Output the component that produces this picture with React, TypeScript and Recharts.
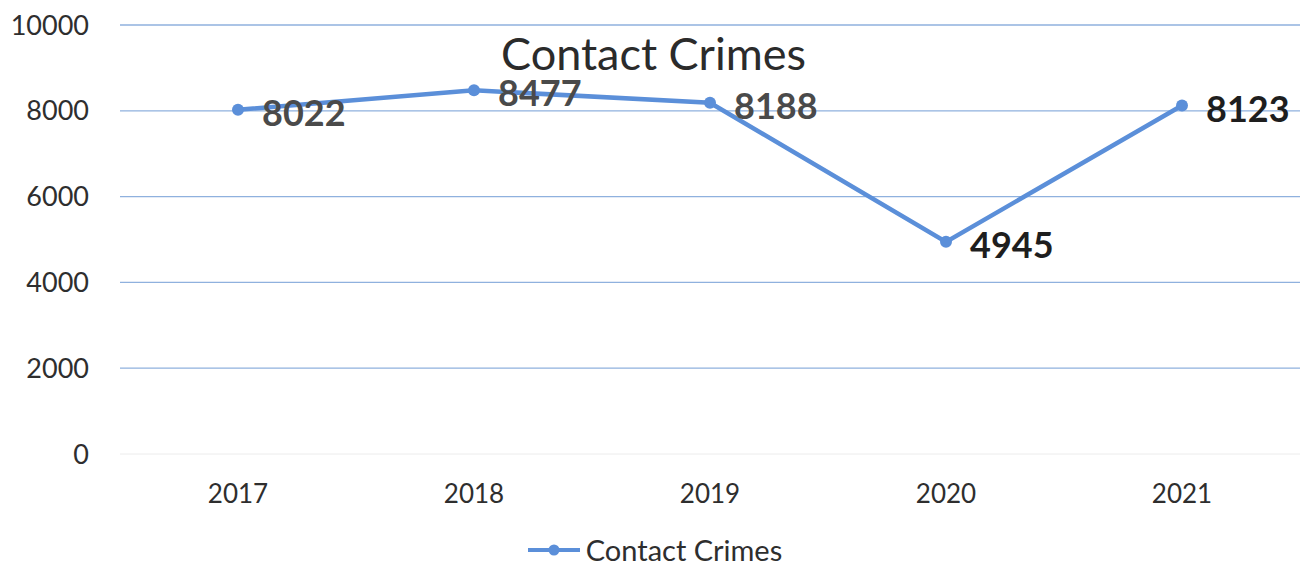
import { CartesianGrid, Legend, Line, LineChart, XAxis, YAxis } from "recharts";

const YEARS = ["2017", "2018", "2019", "2020", "2021"];
const CONTACT_CRIMES = [8022, 8477, 8188, 4945, 8123];
const Y_TICKS = [0, 2000, 4000, 6000, 8000, 10000];
// the last two labels are printed darker in the source
const LABEL_DARK = [false, false, false, true, true];

const FONT = "Lato, 'Open Sans', sans-serif";
const BLUE = "#5b8fd9";
const GRID = "#8fb1de";

const rows = YEARS.map((year, i) => ({ year, crimes: CONTACT_CRIMES[i] }));

function ValueLabel(props: any) {
  const { x, y, value, index } = props;
  const dark = LABEL_DARK[index];
  return (
    <text
      x={x + 24}
      y={y + 2}
      dominantBaseline="central"
      fontFamily={FONT}
      fontSize={36}
      fontWeight={700}
      fill={dark ? "#1e1e1e" : "#4a4a4a"}
    >
      {value}
    </text>
  );
}

function LegendContent() {
  return (
    <div
      style={{
        display: "flex",
        alignItems: "center",
        justifyContent: "center",
        fontFamily: FONT,
        fontSize: 29,
        color: "#2e2e2e",
        paddingLeft: 8,
      }}
    >
      <svg width={56} height={16} style={{ marginRight: 4 }}>
        <line x1={2} y1={8} x2={54} y2={8} stroke={BLUE} strokeWidth={4} />
        <circle cx={28} cy={8} r={5.5} fill={BLUE} />
      </svg>
      <span>Contact Crimes</span>
    </div>
  );
}

export default function App() {
  return (
    <div style={{ position: "absolute", left: 0, top: 0, width: 1303, height: 585, background: "#fff" }}>
      <div
        style={{
          position: "absolute",
          left: 0,
          width: 1303,
          top: 26,
          textAlign: "center",
          fontFamily: FONT,
          fontSize: 45,
          color: "#2b2b2b",
          paddingLeft: 2,
          pointerEvents: "none",
          zIndex: 2,
        }}
      >
        Contact Crimes
      </div>
      <LineChart width={1303} height={585} data={rows} margin={{ top: 25, right: 3, bottom: 3, left: 0 }}>
        <CartesianGrid
          vertical={false}
          horizontalValues={[2000, 4000, 6000, 8000, 10000]}
          stroke={GRID}
          strokeWidth={1.3}
        />
        <XAxis
          dataKey="year"
          height={78}
          tickSize={0}
          tickMargin={31}
          padding={{ left: 118, right: 118 }}
          axisLine={{ stroke: "#ececec" }}
          tick={{ fontFamily: FONT, fontSize: 26, fill: "#2e2e2e" }}
        />
        <YAxis
          width={120}
          domain={[0, 10000]}
          ticks={Y_TICKS}
          tickSize={0}
          tickMargin={31}
          axisLine={false}
          tick={{ fontFamily: FONT, fontSize: 27, fill: "#2e2e2e" }}
        />
        <Legend verticalAlign="bottom" height={50} content={<LegendContent />} />
        <Line
          type="linear"
          dataKey="crimes"
          name="Contact Crimes"
          stroke={BLUE}
          strokeWidth={4.5}
          dot={{ r: 6, fill: BLUE, stroke: BLUE, strokeWidth: 0 }}
          label={<ValueLabel />}
          isAnimationActive={false}
        />
      </LineChart>
    </div>
  );
}
